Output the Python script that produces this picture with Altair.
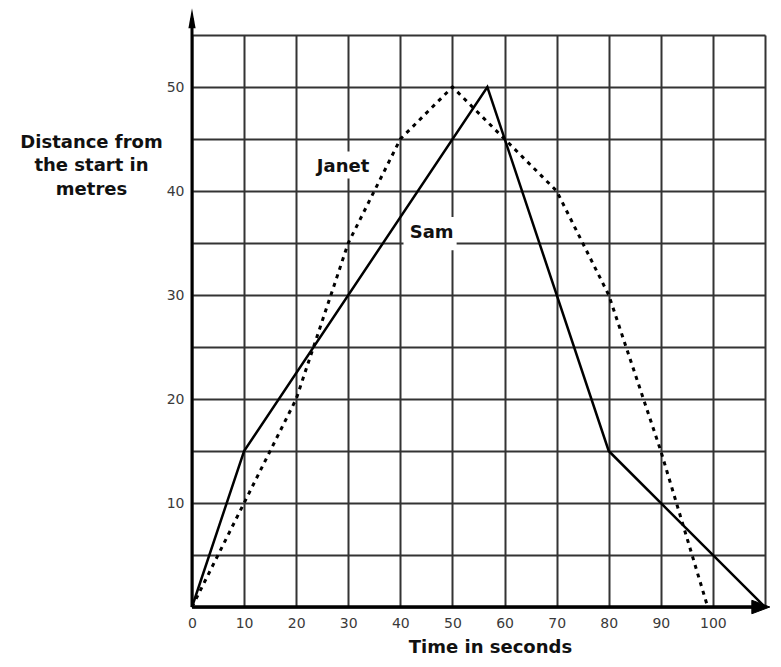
import altair as alt
import pandas as pd

# Sam (solid line)
sam_t = [0, 10, 56.7, 80, 110]
sam_d = [0, 15, 50, 15, 0]
# Janet (dotted line)
janet_t = [0, 10, 20, 30, 40, 50, 60, 70, 80, 90, 99]
janet_d = [0, 10, 20, 35, 45, 50, 45, 40, 30, 15, 0]

x_ticks = list(range(0, 111, 10))
y_ticks = list(range(0, 56, 5))

label_names = ["Janet", "Sam"]
label_x = [29.0, 46.0]
label_y = [42.3, 36.0]
box_x1 = [23.0, 40.6]
box_x2 = [35.4, 50.8]
box_y1 = [41.2, 34.3]
box_y2 = [43.8, 37.5]

sam = pd.DataFrame({"t": sam_t, "d": sam_d})
janet = pd.DataFrame({"t": janet_t, "d": janet_d})
labels = pd.DataFrame({"name": label_names, "t": label_x, "d": label_y,
                       "t1": box_x1, "t2": box_x2, "d1": box_y1, "d2": box_y2})

FONT = "DejaVu Sans"
xscale = alt.Scale(domain=[0, 110], nice=False, zero=False)
yscale = alt.Scale(domain=[0, 55], nice=False, zero=False)

xaxis = alt.Axis(values=x_ticks, grid=True, gridColor="#333333", gridWidth=2,
                 gridOpacity=1, domain=False, ticks=False,
                 labelExpr="datum.value == 110 ? '' : datum.label",
                 labelFont=FONT, labelFontSize=14, labelColor="#3a3a3a",
                 labelPadding=9, labelFlush=False,
                 title="Time in seconds", titleFont=FONT, titleFontSize=18,
                 titleFontWeight="bold", titleColor="#111",
                 titleX=298, titleY=45, titleBaseline="alphabetic",
                 titleAnchor="start", titleAlign="center")
yaxis = alt.Axis(values=y_ticks, grid=True, gridColor="#333333", gridWidth=2,
                 gridOpacity=1, domain=False, ticks=False,
                 labelExpr="datum.value % 10 == 0 && datum.value > 0 ? datum.label : ''",
                 labelFont=FONT, labelFontSize=14, labelColor="#3a3a3a",
                 labelPadding=8,
                 title=["Distance from", "the start in", "metres"],
                 titleFont=FONT, titleFontSize=18, titleFontWeight="bold",
                 titleColor="#111", titleAngle=0, titleAlign="center",
                 titleX=-101, titleY=112, titleBaseline="alphabetic",
                 titleLineHeight=23.5, titleAnchor="start")

base_x = alt.X("t:Q", scale=xscale, axis=xaxis)
base_y = alt.Y("d:Q", scale=yscale, axis=yaxis)

boxes = alt.Chart(labels).mark_rect(color="white").encode(
    x=alt.X("t1:Q", scale=xscale, axis=xaxis), x2="t2:Q",
    y=alt.Y("d1:Q", scale=yscale, axis=yaxis), y2="d2:Q")

sam_line = alt.Chart(sam).mark_line(color="black", strokeWidth=2.5).encode(
    x=base_x, y=base_y, order="t:Q")
janet_line = alt.Chart(janet).mark_line(color="black", strokeWidth=3,
                                        strokeDash=[4, 5]).encode(
    x=base_x, y=base_y, order="t:Q")

text = alt.Chart(labels).mark_text(font=FONT, fontSize=18, fontWeight="bold",
                                   color="#111").encode(
    x=base_x, y=base_y, text="name:N")

# axis lines with arrows
axes_df = pd.DataFrame({"t": [0], "d": [0], "tx": [109.2], "dy": [56.6]})
x_axis_line = alt.Chart(axes_df).mark_rule(color="black", strokeWidth=3.5, clip=False).encode(
    x=alt.X("t:Q", scale=xscale), x2="tx:Q", y=alt.Y("d:Q", scale=yscale))
y_axis_line = alt.Chart(axes_df).mark_rule(color="black", strokeWidth=3, clip=False).encode(
    x=alt.X("t:Q", scale=xscale), y=alt.Y("d:Q", scale=yscale), y2="dy:Q")
x_arrow = alt.Chart(axes_df).mark_point(shape="M1,0L-1,-0.75L-1,0.75Z", filled=True,
                                        fill="black", stroke="black", strokeWidth=1,
                                        size=324, opacity=1, clip=False).encode(
    x=alt.X("tx:Q", scale=xscale), y=alt.Y("d:Q", scale=yscale))
y_arrow = alt.Chart(axes_df).mark_point(shape="M-0.36,1 L0,-1 L0.36,1 Z", filled=True,
                                        color="black", size=400, opacity=1, clip=False).encode(
    x=alt.X("t:Q", scale=xscale), y=alt.Y("dy:Q", scale=yscale))

chart = alt.layer(boxes, sam_line, janet_line, text, x_axis_line, y_axis_line,
                  x_arrow, y_arrow).properties(
    width=573, height=572,
    autosize=alt.AutoSizeParams(type="none"),
    padding={"left": 184, "top": 27, "right": 8, "bottom": 50},
).configure_view(stroke=None).configure(background="white")

chart.save("out.html", embed_options={"renderer": "svg", "actions": False})
